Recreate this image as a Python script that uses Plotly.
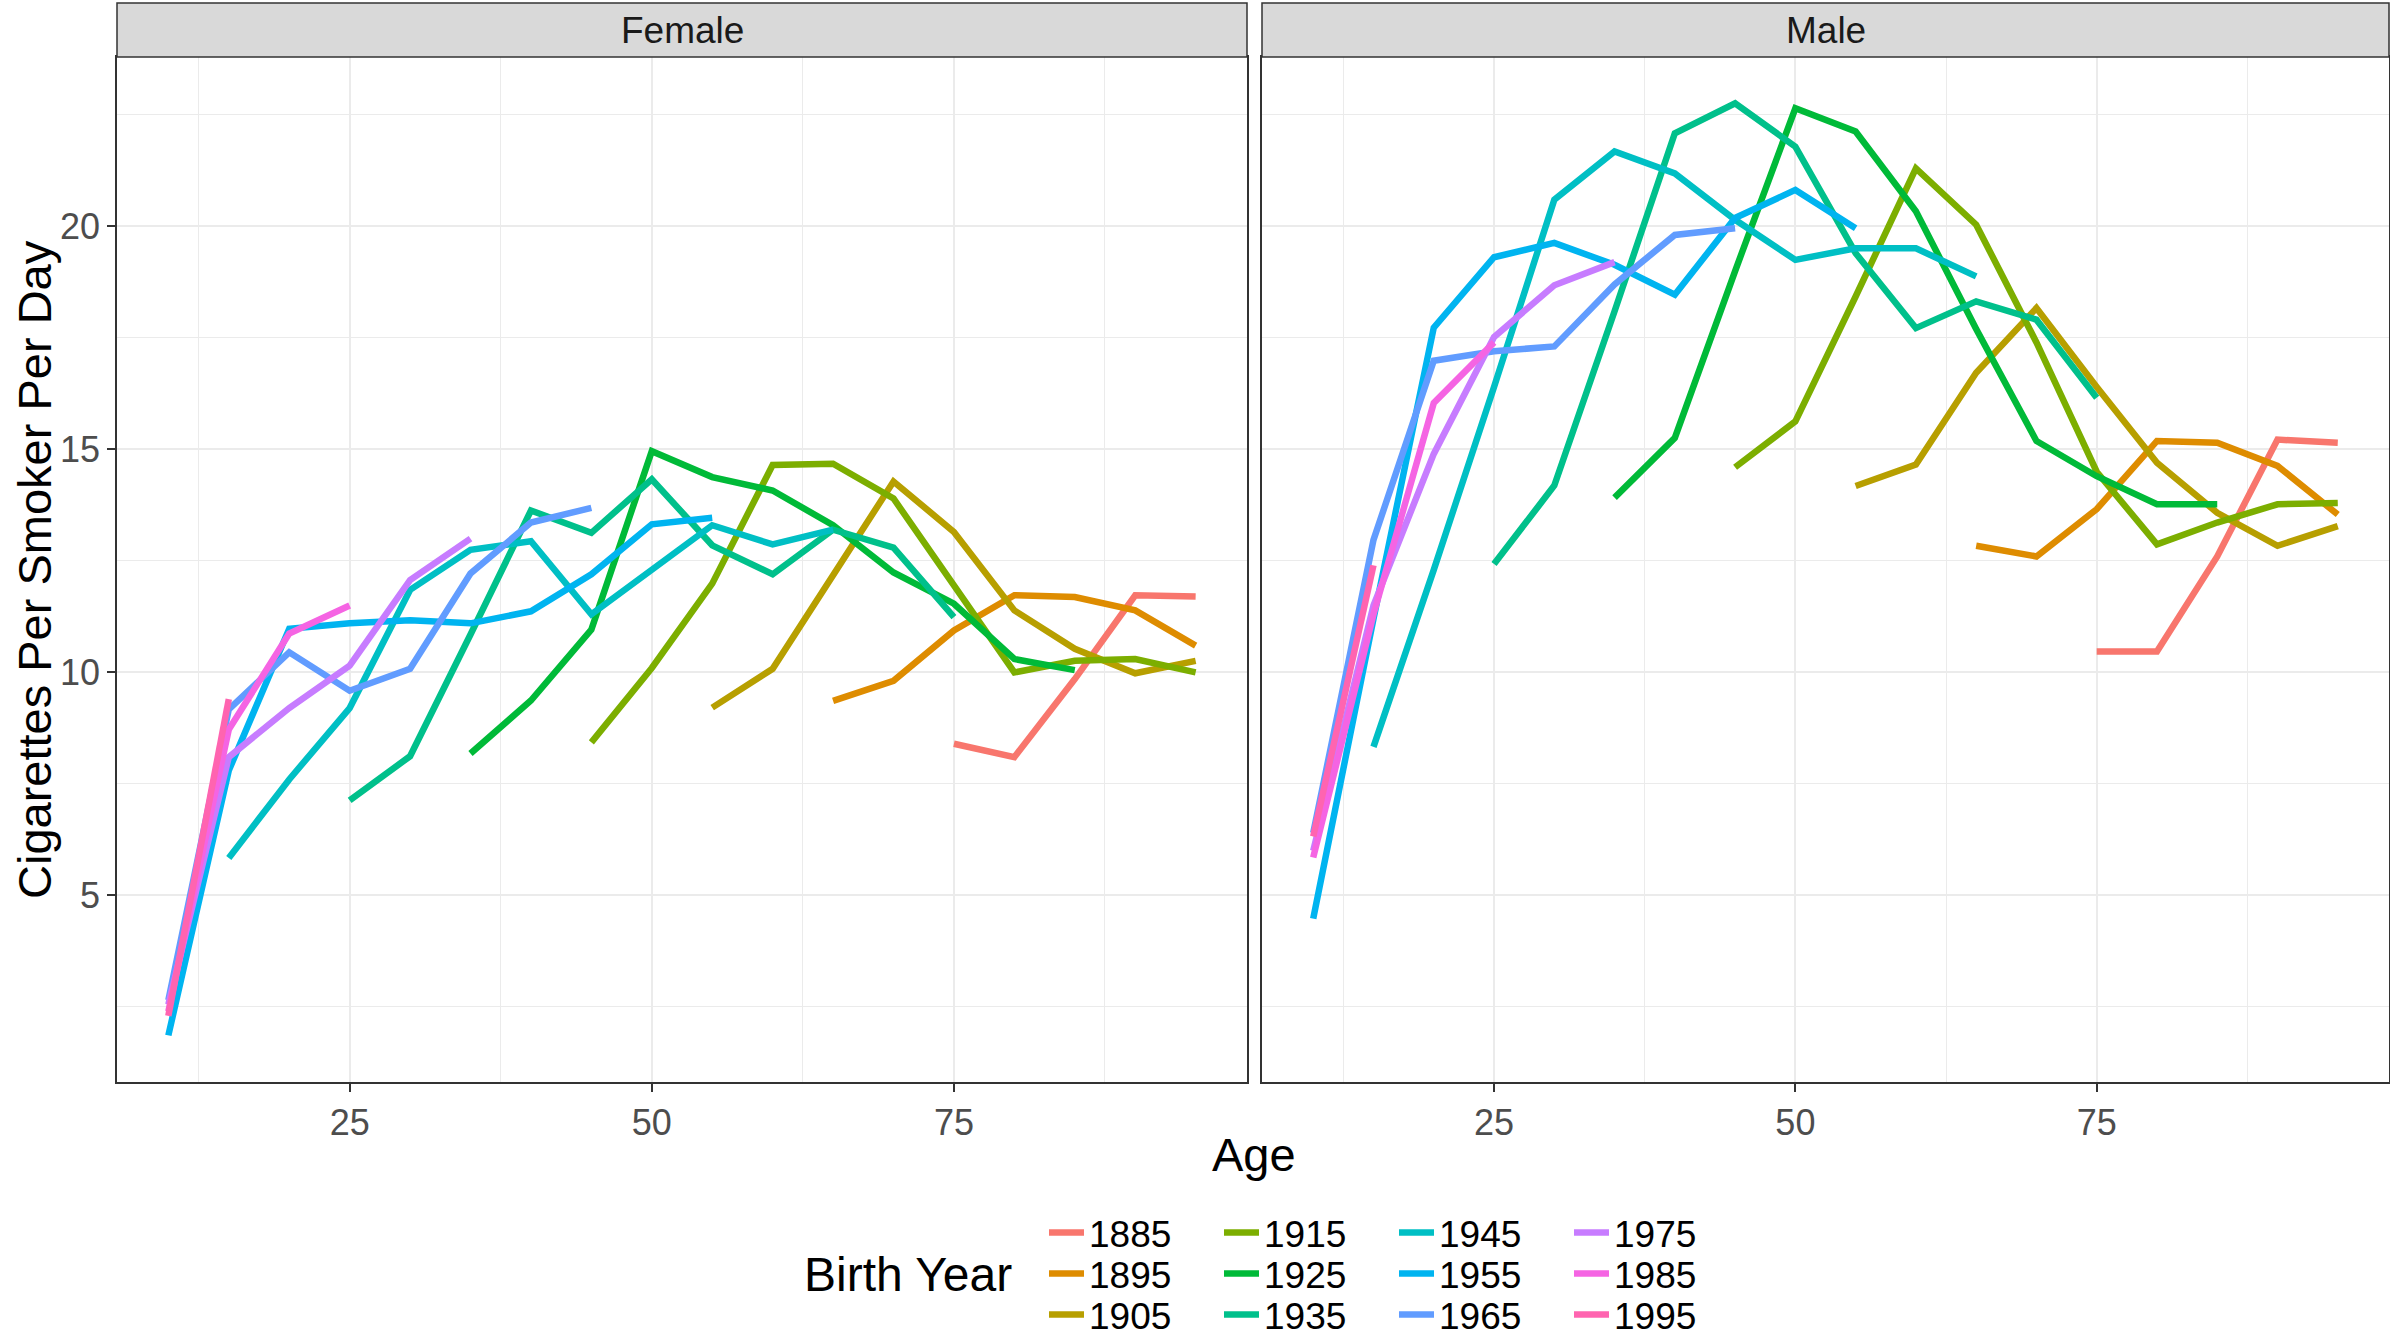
import plotly.graph_objects as go

# ---------------- data ----------------
birth_years = ["1885", "1895", "1905", "1915", "1925", "1935",
               "1945", "1955", "1965", "1975", "1985", "1995"]
colors = ["#F8766D", "#DE8C00", "#B79F00", "#7CAE00", "#00BA38", "#00C08B",
          "#00BFC4", "#00B4F0", "#619CFF", "#C77CFF", "#F564E3", "#FF64B0"]
first_age = [75, 65, 55, 45, 35, 25, 15, 10, 10, 10, 10, 10]
age_step = 5

female_1885 = [8.4, 8.1, 9.85, 11.73, 11.7]
female_1895 = [9.36, 9.81, 10.94, 11.73, 11.69, 11.39, 10.6]
female_1905 = [9.21, 10.08, 12.18, 14.28, 13.15, 11.39, 10.53, 9.98, 10.26]
female_1915 = [8.43, 10.1, 11.99, 14.65, 14.68, 13.9, 11.95, 10.0, 10.26, 10.3, 10.0]
female_1925 = [8.18, 9.37, 10.96, 14.96, 14.38, 14.08, 13.3, 12.24, 11.54, 10.3, 10.05]
female_1935 = [7.13, 8.12, 10.85, 13.63, 13.13, 14.33, 12.85, 12.2, 13.2, 12.8, 11.24]
female_1945 = [5.84, 7.6, 9.2, 11.85, 12.75, 12.94, 11.3, 12.3, 13.3, 12.87, 13.2]
female_1955 = [1.86, 7.8, 10.98, 11.1, 11.17, 11.1, 11.37, 12.2, 13.32, 13.47]
female_1965 = [2.65, 9.17, 10.45, 9.59, 10.08, 12.22, 13.36, 13.69]
female_1975 = [2.55, 8.1, 9.2, 10.15, 12.07, 13.0]
female_1985 = [2.4, 8.72, 10.87, 11.5]
female_1995 = [2.3, 9.4]

male_1885 = [10.47, 10.47, 12.6, 15.22, 15.15]
male_1895 = [12.84, 12.6, 13.66, 15.19, 15.15, 14.63, 13.54]
male_1905 = [14.18, 14.66, 16.72, 18.17, 16.4, 14.7, 13.58, 12.84, 13.28]
male_1915 = [14.6, 15.63, 18.43, 21.3, 20.04, 17.4, 14.5, 12.87, 13.36, 13.77, 13.8]
male_1925 = [13.92, 15.26, 19.0, 22.65, 22.13, 20.34, 17.7, 15.19, 14.4, 13.77, 13.77]
male_1935 = [12.43, 14.19, 18.1, 22.09, 22.76, 21.79, 19.4, 17.72, 18.32, 17.91, 16.16]
male_1945 = [8.33, 12.3, 16.4, 20.6, 21.68, 21.19, 20.15, 19.25, 19.51, 19.51, 18.88]
male_1955 = [4.48, 11.2, 17.73, 19.31, 19.63, 19.14, 18.47, 20.19, 20.82, 19.96]
male_1965 = [6.4, 12.97, 16.99, 17.2, 17.31, 18.7, 19.81, 19.96]
male_1975 = [6.0, 11.5, 14.9, 17.52, 18.68, 19.2]
male_1985 = [5.85, 11.3, 16.04, 17.4]
male_1995 = [6.32, 12.4]

female_series = [female_1885, female_1895, female_1905, female_1915, female_1925, female_1935,
                 female_1945, female_1955, female_1965, female_1975, female_1985, female_1995]
male_series = [male_1885, male_1895, male_1905, male_1915, male_1925, male_1935,
               male_1945, male_1955, male_1965, male_1975, male_1985, male_1995]

panel_titles = ["Female", "Male"]
x_ticks = [25, 50, 75]
y_ticks = [5, 10, 15, 20]

# ---------------- figure ----------------
FONT = "Liberation Sans, Arial, sans-serif"
W, H = 2390, 1337
ML, MR, MT, MB = 117, 1, 3, 255
PW, PH = W - ML - MR, H - MT - MB

def px_x(v):
    return (v - ML) / PW

def px_y(v):
    return (H - MB - v) / PH

fig = go.Figure()
# legend laid out as 3 rows (each a horizontal legend) x 4 columns
legend_rows = ["legend", "legend2", "legend3"]

for i, (by, col) in enumerate(zip(birth_years, colors)):
    for s, (series, xa, ya) in enumerate([(female_series[i], "x", "y"),
                                          (male_series[i], "x2", "y2")]):
        ages = [first_age[i] + age_step * k for k in range(len(series))]
        fig.add_trace(go.Scatter(
            x=ages, y=series, mode="lines", name=by,
            line=dict(color=col, width=6.5),
            xaxis=xa, yaxis=ya,
            legendgroup=by, showlegend=(s == 0),
            legend=legend_rows[i % 3],
            hoverinfo="skip",
        ))

x_dom1 = [0, px_x(1247)]
x_dom2 = [px_x(1262), 1]
y_dom = [0, px_y(57)]

axis_common = dict(
    showgrid=True, gridcolor="#EBEBEB", gridwidth=2,
    zeroline=False, showline=True, linecolor="#333333", linewidth=1.5, mirror=True,
    ticks="outside", ticklen=8, tickwidth=2, tickcolor="#333333",
    tickfont=dict(family=FONT, size=36, color="#4D4D4D"),
)

xr = [5.75, 99.25]
yr = [0.815, 23.8]

fig.update_layout(
    width=W, height=H,
    margin=dict(l=ML, r=MR, t=MT, b=MB, autoexpand=False),
    paper_bgcolor="white", plot_bgcolor="white",
    font=dict(family=FONT),
    xaxis=dict(domain=x_dom1, range=xr, tickvals=x_ticks, anchor="y",
               minor=dict(tickvals=[12.5, 37.5, 62.5, 87.5], showgrid=True,
                          gridcolor="#EBEBEB", gridwidth=1, ticks=""),
               **axis_common),
    xaxis2=dict(domain=x_dom2, range=xr, tickvals=x_ticks, anchor="y2", matches="x",
                minor=dict(tickvals=[12.5, 37.5, 62.5, 87.5], showgrid=True,
                           gridcolor="#EBEBEB", gridwidth=1, ticks=""),
                **axis_common),
    yaxis=dict(domain=y_dom, range=yr, tickvals=y_ticks, anchor="x",
               minor=dict(tickvals=[2.5, 7.5, 12.5, 17.5, 22.5], showgrid=True,
                          gridcolor="#EBEBEB", gridwidth=1, ticks=""),
               **axis_common),
    yaxis2=dict(domain=y_dom, range=yr, tickvals=y_ticks, anchor="x2", matches="y",
                minor=dict(tickvals=[2.5, 7.5, 12.5, 17.5, 22.5], showgrid=True,
                           gridcolor="#EBEBEB", gridwidth=1, ticks=""),
                showgrid=True, gridcolor="#EBEBEB", gridwidth=2,
                zeroline=False, showline=True, linecolor="#333333", linewidth=1.5,
                mirror=True, ticks="", showticklabels=False),
)

row_center_px = [1233, 1274, 1315]
legend_left_px = 1044
for name, yc in zip(legend_rows, row_center_px):
    fig.update_layout({name: dict(
        x=px_x(legend_left_px), y=px_y(yc), xanchor="left", yanchor="middle",
        orientation="h", bgcolor="rgba(0,0,0,0)", borderwidth=0,
        font=dict(family=FONT, size=37, color="#000000"),
        itemwidth=35, entrywidth=125, entrywidthmode="pixels",
        traceorder="normal",
    )})

# strips
shapes = []
annotations = []
for title, dom in zip(panel_titles, [x_dom1, x_dom2]):
    shapes.append(dict(type="rect", xref="paper", yref="paper",
                       x0=dom[0], x1=dom[1], y0=y_dom[1], y1=1.0,
                       fillcolor="#D9D9D9", line=dict(color="#333333", width=1.5),
                       layer="above"))
    annotations.append(dict(text=title, xref="paper", yref="paper",
                            x=(dom[0] + dom[1]) / 2, y=(y_dom[1] + 1.0) / 2,
                            xanchor="center", yanchor="middle", showarrow=False,
                            font=dict(family=FONT, size=37, color="#1A1A1A")))

annotations.append(dict(text="Age", xref="paper", yref="paper",
                        x=px_x(1254), y=px_y(1154), xanchor="center", yanchor="middle",
                        showarrow=False, font=dict(family=FONT, size=47, color="#000000")))
annotations.append(dict(text="Cigarettes Per Smoker Per Day", xref="paper", yref="paper",
                        x=px_x(34), y=px_y(570), xanchor="center", yanchor="middle",
                        textangle=-90, showarrow=False,
                        font=dict(family=FONT, size=47, color="#000000")))
annotations.append(dict(text="Birth Year", xref="paper", yref="paper",
                        x=px_x(1014), y=px_y(1274), xanchor="right", yanchor="middle",
                        showarrow=False, font=dict(family=FONT, size=48, color="#000000")))

fig.update_layout(shapes=shapes, annotations=annotations)

fig.write_html("out.html")
